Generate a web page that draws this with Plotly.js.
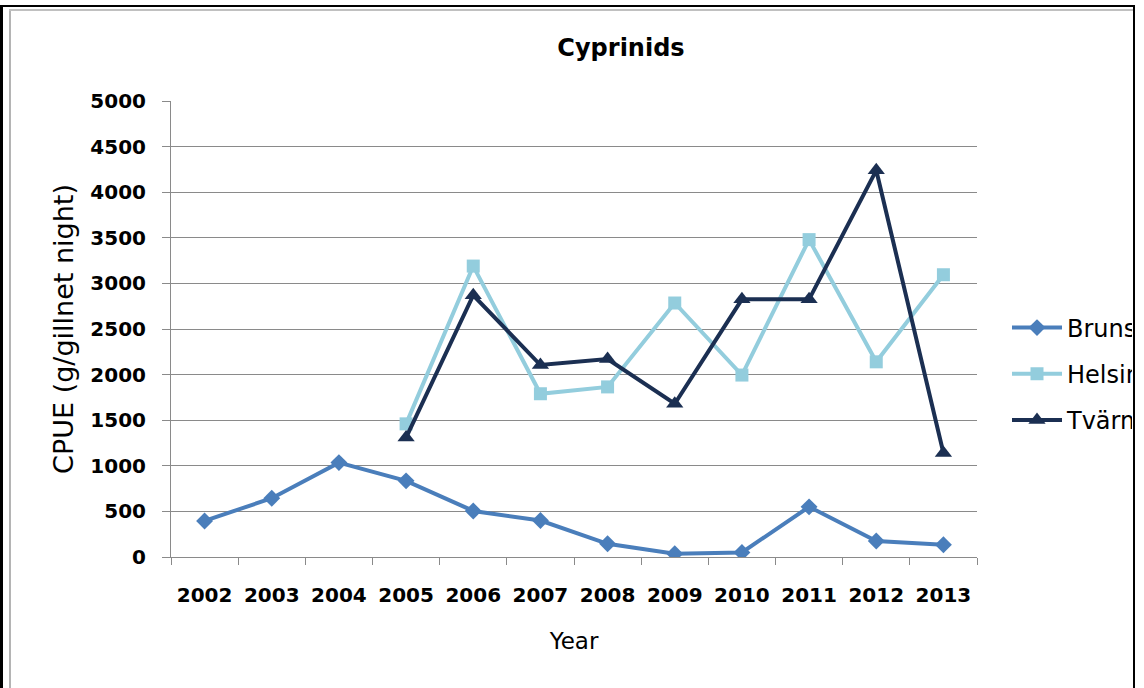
<!DOCTYPE html>
<html>
<head>
<meta charset="utf-8">
<script src="https://cdn.plot.ly/plotly-3.0.1.min.js"></script>
<style>
  html, body { margin: 0; padding: 0; background: #ffffff; width: 1144px; height: 688px; overflow: hidden; }
  #frameOuter { position: absolute; left: 0; top: 5px; width: 1130px; height: 690px;
    border-left: 3px solid #000; border-top: 2px solid #000; border-right: 2px solid #000; box-sizing: content-box; }
  #frameInnerL { position: absolute; left: 9px; top: 9px; width: 2px; height: 679px; background: #b4b4b4; }
  #frameInnerT { position: absolute; left: 9px; top: 9px; width: 1124px; height: 2px; background: #c0c0c0; }
  #wrap { position: absolute; left: 0; top: 0; width: 1132px; height: 688px; overflow: hidden; }
  #chart { width: 1132px; height: 688px; }
</style>
</head>
<body>
<div id="frameOuter"></div>
<div id="frameInnerL"></div>
<div id="frameInnerT"></div>
<div id="wrap"><div id="chart"></div></div>
<script>
// ---- data ----
const years = ['2002','2003','2004','2005','2006','2007','2008','2009','2010','2011','2012','2013'];
const seriesNames = ['Brunskär', 'Helsinki', 'Tvärminne'];
const brunskar  = [395, 645, 1035, 835, 505, 400, 145, 35, 50, 550, 175, 135];
const helsinki  = [null, null, null, 1460, 3190, 1790, 1865, 2785, 1995, 3480, 2140, 3095];
const tvarminne = [null, null, null, 1310, 2870, 2105, 2170, 1680, 2825, 2825, 4240, 1140];
const yTicks = [0, 500, 1000, 1500, 2000, 2500, 3000, 3500, 4000, 4500, 5000];

const colors = ['#4A7EBB', '#93CDDD', '#1B2F52'];
const symbols = ['diamond', 'square', 'triangle-up'];
const sizes = [13, 13, 15];
const values = [brunskar, helsinki, tvarminne];

const traces = values.map((v, i) => ({
  type: 'scatter',
  mode: 'lines+markers',
  x: years,
  y: v,
  name: seriesNames[i],
  legendgroup: 'g' + i,
  connectgaps: false,
  line: { color: colors[i], width: 4 },
  marker: { symbol: symbols[i], size: sizes[i], color: colors[i], line: { width: 0 } }
}));

const FONT = 'DejaVu Sans, Verdana, sans-serif';
const gray = '#8a8a8a';

const layout = {
  width: 1132,
  height: 688,
  paper_bgcolor: 'rgba(0,0,0,0)',
  plot_bgcolor: 'rgba(0,0,0,0)',
  margin: { l: 171, r: 155, t: 101, b: 131, autoexpand: false },
  font: { family: FONT, color: '#000000' },
  title: {
    text: '<b>Cyprinids</b>',
    font: { family: FONT, size: 24, color: '#000000' },
    xref: 'container', x: 621 / 1132, xanchor: 'center',
    yref: 'container', y: 1 - 48 / 688, yanchor: 'middle'
  },
  xaxis: {
    type: 'category',
    range: [-0.5, 11.5],
    tickson: 'boundaries',
    ticks: 'outside', ticklen: 7, tickwidth: 1, tickcolor: gray,
    showline: true, linecolor: gray, linewidth: 1,
    showgrid: false, zeroline: false,
    tickfont: { family: FONT, size: 20, color: '#000000', weight: 'bold' },
    ticklabelstandoff: 20,
    title: { text: 'Year', font: { family: FONT, size: 23, color: '#000000' }, standoff: 26 },
    automargin: false,
    fixedrange: true
  },
  yaxis: {
    range: [0, 5000],
    tickvals: yTicks,
    ticktext: yTicks.map(String),
    ticks: 'outside', ticklen: 8, tickwidth: 1, tickcolor: gray,
    showline: true, linecolor: gray, linewidth: 1,
    showgrid: true, gridcolor: gray, gridwidth: 1,
    zeroline: false,
    tickfont: { family: FONT, size: 20, color: '#000000', weight: 'bold' },
    ticklabelstandoff: 12,
    title: { text: 'CPUE (g/gillnet night)', font: { family: FONT, size: 27, color: '#000000' }, standoff: 8 },
    automargin: false,
    fixedrange: true
  },
  showlegend: true,
  legend: {
    x: (1007 - 171) / 806, xanchor: 'left',
    y: (557 - 374) / 456, yanchor: 'middle',
    xref: 'paper', yref: 'paper',
    font: { family: FONT, size: 24, color: '#000000' },
    bgcolor: 'rgba(0,0,0,0)',
    borderwidth: 0,
    itemwidth: 50,
    tracegroupgap: 12,
    traceorder: 'grouped'
  }
};

Plotly.newPlot('chart', traces, layout, { displayModeBar: false, staticPlot: true });
</script>
</body>
</html>
